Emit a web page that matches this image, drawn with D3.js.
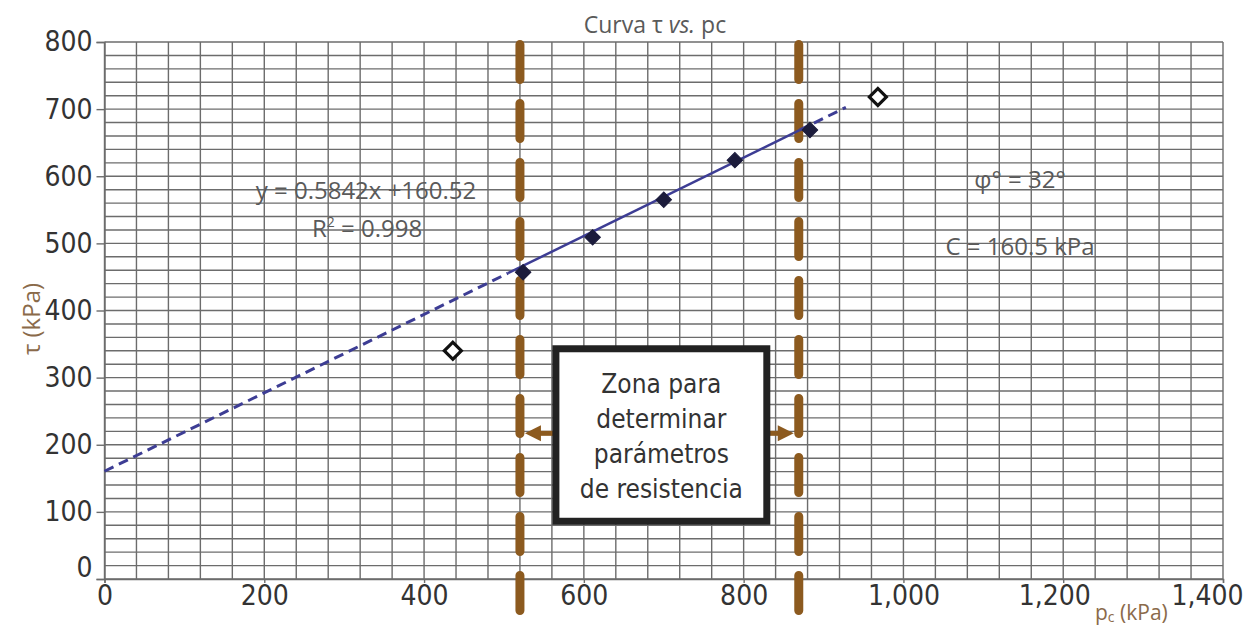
<!DOCTYPE html>
<html>
<head>
<meta charset="utf-8">
<script src="https://cdn.jsdelivr.net/npm/d3@7"></script>
<style>
  body { margin: 0; background: #fff; }
  svg { display: block; }
</style>
</head>
<body>
<div class="container"></div>
<script>
// points used for the fit (inside the zone) and the two left out
const fitX = [524, 611, 700, 789, 883];
const fitY = [457, 509, 565, 624, 669];
const outX = [436, 968];
const outY = [340, 718];

// regression  y = 0.5842x + 160.52
const slope = 0.5842;
const intercept = 160.52;
const fitExtent = [0, 928];
const fitSolid = [505, 870];

// zone limits (kPa) and the note box
const zoneLimits = [520, 869];
const boxX = [565, 829];
const boxY = [86, 343];
const arrowY = 217;
const boxLines = ['Zona para', 'determinar', 'parámetros', 'de resistencia'];

const xTicks = [0, 200, 400, 600, 800, 1000, 1200, 1400];
const yTicks = [0, 100, 200, 300, 400, 500, 600, 700, 800];

const width = 1254, height = 629;
const narrow = '"Liberation Sans Narrow", "DejaVu Sans Condensed", "Roboto", sans-serif';
const light = '"Open Sans", "Noto Sans", sans-serif';

const x = d3.scaleLinear().domain([0, 1400]).range([104.5, 1223]);
const y = d3.scaleLinear().domain([0, 800]).range([579, 42]);

const svg = d3.select('.container').append('svg')
    .attr('width', width)
    .attr('height', height);

// grid
const grid = svg.append('g')
    .attr('stroke', '#6c6c6c')
    .attr('stroke-width', 1.4);
grid.selectAll('.vx')
    .data(d3.range(0, 1401, 40))
    .join('line')
    .attr('x1', d => x(d)).attr('x2', d => x(d))
    .attr('y1', y(800)).attr('y2', y(0));
grid.selectAll('.hy')
    .data(d3.range(0, 801, 20))
    .join('line')
    .attr('y1', d => y(d)).attr('y2', d => y(d))
    .attr('x1', x(0)).attr('x2', x(1400));

// axes
const yAxis = svg.append('g')
    .attr('transform', `translate(${x(0)},0)`)
    .call(d3.axisLeft(y).tickValues(yTicks).tickSize(8).tickPadding(4));
const xAxis = svg.append('g')
    .attr('transform', `translate(0,${y(0)})`)
    .call(d3.axisBottom(x).tickValues(xTicks).tickFormat(d3.format(',')).tickSize(4).tickPadding(2));

[yAxis, xAxis].forEach(a => {
    a.select('.domain').attr('stroke', '#6c6c6c').attr('stroke-width', 1.4);
    a.selectAll('.tick line').attr('stroke', '#6c6c6c').attr('stroke-width', 1.4);
    a.selectAll('text')
        .attr('fill', '#333')
        .style('font-family', narrow)
        .style('font-size', '28px');
});
yAxis.selectAll('.tick').filter(d => d === 0).select('text').attr('dy', '-0.1em');
xAxis.selectAll('.tick').filter(d => d === 1200).select('text').attr('dx', -9);
xAxis.selectAll('.tick').filter(d => d === 1400).select('text').attr('dx', -16);

// zone limits
svg.append('g')
    .selectAll('line')
    .data(zoneLimits)
    .join('line')
    .attr('x1', d => x(d)).attr('x2', d => x(d))
    .attr('y1', 44.5).attr('y2', height + 20)
    .attr('stroke', '#8c5a1f')
    .attr('stroke-width', 9)
    .attr('stroke-linecap', 'round')
    .attr('stroke-dasharray', '35 24');

// trend line
const fitLine = d3.line().x(d => x(d)).y(d => y(slope * d + intercept));
svg.append('path')
    .attr('d', fitLine([fitExtent[0], fitSolid[0]]))
    .attr('stroke', '#3d3d94').attr('stroke-width', 3).attr('fill', 'none')
    .attr('stroke-dasharray', '10 6');
svg.append('path')
    .attr('d', fitLine([fitSolid[1], fitExtent[1]]))
    .attr('stroke', '#3d3d94').attr('stroke-width', 3).attr('fill', 'none')
    .attr('stroke-dasharray', '10 6');
svg.append('path')
    .attr('d', fitLine(fitSolid))
    .attr('stroke', '#3d3d94').attr('stroke-width', 2.5).attr('fill', 'none');

// markers
const diamond = d3.symbol().type(d3.symbolSquare);
svg.append('g')
    .selectAll('path')
    .data(fitX.map((d, i) => [d, fitY[i]]))
    .join('path')
    .attr('d', diamond.size(120)())
    .attr('transform', d => `translate(${x(d[0])},${y(d[1])}) rotate(45)`)
    .attr('fill', '#1c1c3c')
    .attr('stroke', '#1c1c3c')
    .attr('stroke-width', 1);
svg.append('g')
    .selectAll('path')
    .data(outX.map((d, i) => [d, outY[i]]))
    .join('path')
    .attr('d', diamond.size(145)())
    .attr('transform', d => `translate(${x(d[0])},${y(d[1])}) rotate(45)`)
    .attr('fill', '#fff')
    .attr('stroke', '#111')
    .attr('stroke-width', 3.2);

// arrows from box to zone limits
const arrows = svg.append('g').attr('fill', '#8c5a1f').attr('stroke', '#8c5a1f');
const ay = y(arrowY);
[[x(boxX[0]), x(zoneLimits[0]) + 5, -1], [x(boxX[1]), x(zoneLimits[1]) - 5, 1]].forEach(([from, tip, dir]) => {
    arrows.append('line')
        .attr('x1', from).attr('x2', tip - dir * 12)
        .attr('y1', ay).attr('y2', ay)
        .attr('stroke-width', 5);
    arrows.append('path')
        .attr('stroke', 'none')
        .attr('d', `M${tip},${ay} L${tip - dir * 16},${ay - 8} L${tip - dir * 16},${ay + 8} Z`);
});

// note box
svg.append('rect')
    .attr('x', x(boxX[0])).attr('y', y(boxY[1]))
    .attr('width', x(boxX[1]) - x(boxX[0]))
    .attr('height', y(boxY[0]) - y(boxY[1]))
    .attr('fill', '#fff')
    .attr('stroke', '#222')
    .attr('stroke-width', 7);
svg.append('text')
    .attr('text-anchor', 'middle')
    .style('font-family', narrow)
    .style('font-size', '26px')
    .attr('fill', '#333')
    .selectAll('tspan')
    .data(boxLines)
    .join('tspan')
    .attr('x', (x(boxX[0]) + x(boxX[1])) / 2)
    .attr('y', (d, i) => y(boxY[1]) + 44 + i * 35)
    .text(d => d);

// texts
const note = (tx, ty, str, size) => svg.append('text')
    .attr('x', tx).attr('y', ty)
    .attr('text-anchor', 'middle')
    .attr('fill', '#5a5a5a')
    .style('font-family', light)
    .style('font-size', size + 'px')
    .text(str);

const title = note(655, 33, '', 23);
title.append('tspan').text('Curva τ ');
title.append('tspan').style('font-style', 'italic').text('vs.');
title.append('tspan').text(' pc');

note(366, 199, 'y = 0.5842x +160.52', 24);
const r2 = note(367, 237, '', 24);
r2.append('tspan').text('R');
r2.append('tspan').attr('dy', -10).style('font-size', '14px').text('2');
r2.append('tspan').attr('dy', 10).text(' = 0.998');
note(1020, 188, 'φ° = 32°', 24);
note(1020, 255, 'C = 160.5 kPa', 24);

// axis titles
svg.append('text')
    .attr('transform', 'translate(40,319) rotate(-90)')
    .attr('text-anchor', 'middle')
    .attr('fill', '#8a6a4a')
    .style('font-family', light)
    .style('font-size', '24px')
    .text('τ (kPa)');
const xl = svg.append('text')
    .attr('x', 1095).attr('y', 620)
    .attr('fill', '#8a6a4a')
    .style('font-family', light)
    .style('font-size', '21px');
xl.append('tspan').text('p');
xl.append('tspan').attr('dy', 2).style('font-size', '14px').text('c');
xl.append('tspan').attr('dy', -2).text(' (kPa)');
</script>
</body>
</html>
